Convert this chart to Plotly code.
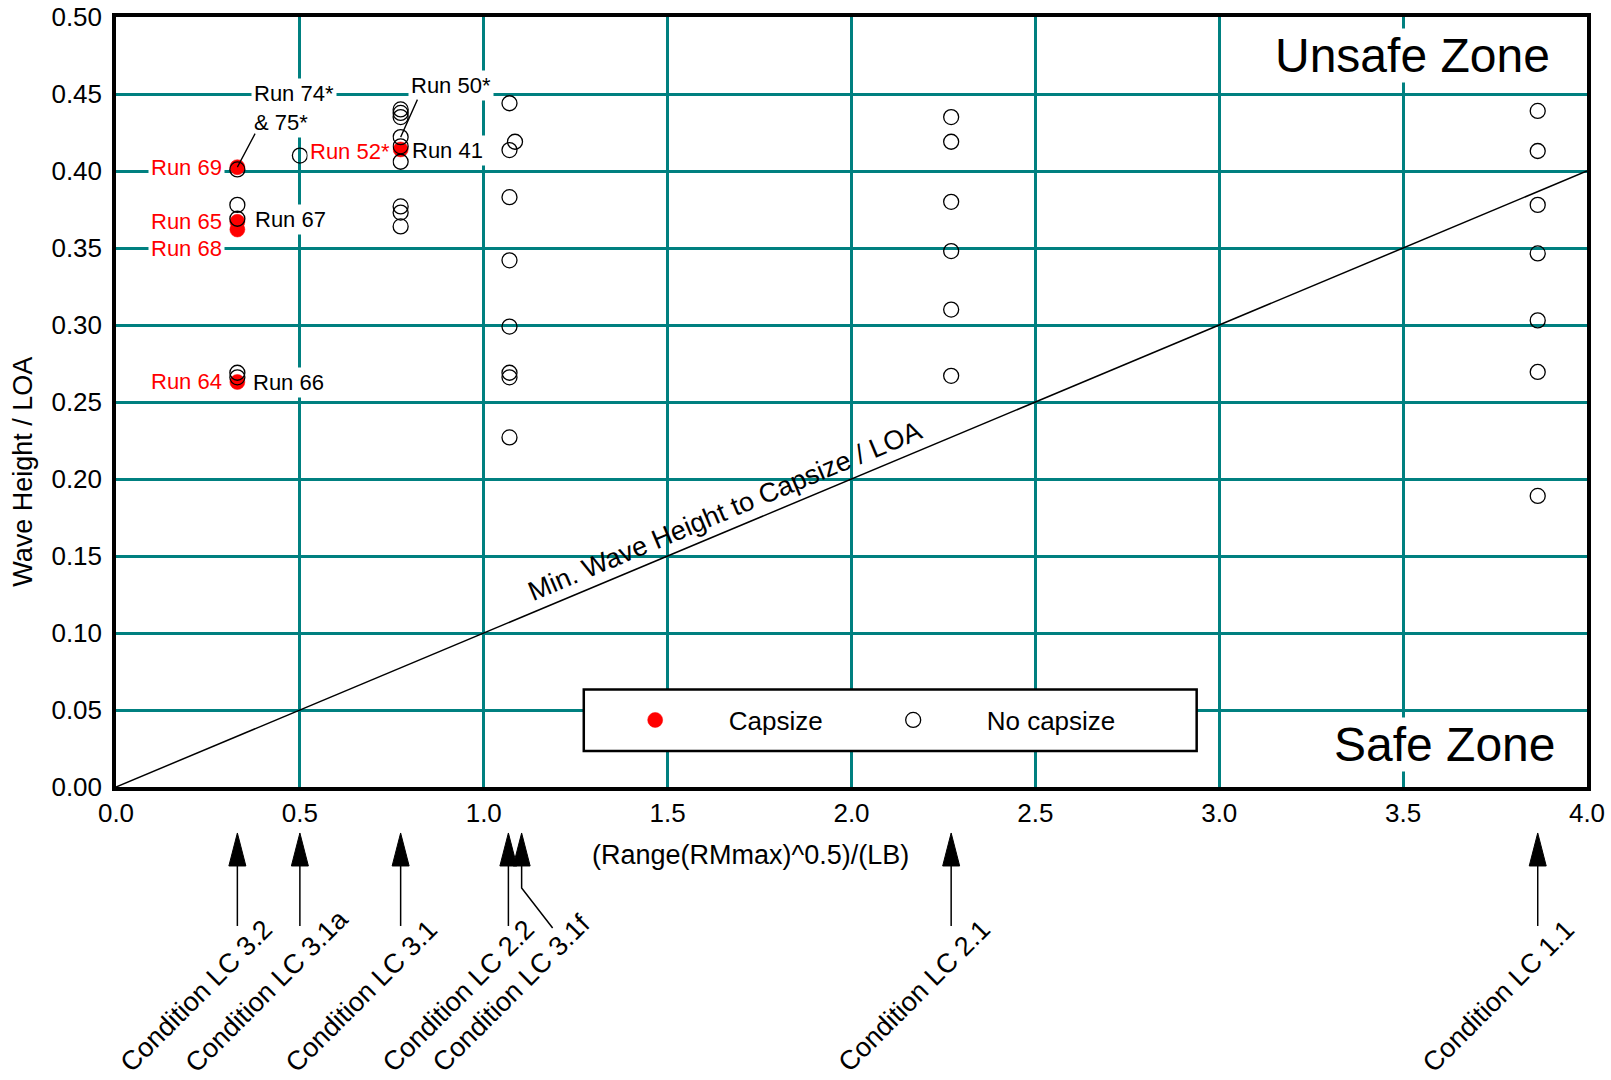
import math
import plotly.graph_objects as go

FONT = "Liberation Sans, Arial, Helvetica, sans-serif"
TEAL = "#008080"

# ---------------- data ----------------
capsize_x = [0.33, 0.33, 0.33, 0.33, 0.774]
capsize_y = [0.4025, 0.367, 0.362, 0.263, 0.414]

nocap_x = [0.33, 0.33, 0.33, 0.33, 0.33,
           0.5,
           0.774, 0.774, 0.774, 0.774, 0.774, 0.774, 0.774, 0.774, 0.774,
           1.07, 1.07, 1.07, 1.07, 1.07, 1.07, 1.07, 1.07,
           1.085,
           2.271, 2.271, 2.271, 2.271, 2.271, 2.271,
           3.866, 3.866, 3.866, 3.866, 3.866, 3.866, 3.866]
nocap_y = [0.401, 0.378, 0.369, 0.269, 0.266,
           0.410,
           0.440, 0.4377, 0.435, 0.422, 0.416, 0.406, 0.377, 0.373, 0.364,
           0.444, 0.4136, 0.383, 0.342, 0.299, 0.269, 0.266, 0.227,
           0.419,
           0.435, 0.419, 0.380, 0.348, 0.310, 0.267,
           0.439, 0.413, 0.378, 0.3465, 0.303, 0.2695, 0.189]

threshold_x = [0.0, 4.0]
threshold_y = [0.0, 0.4]

x_ticks = [0.0, 0.5, 1.0, 1.5, 2.0, 2.5, 3.0, 3.5, 4.0]
x_tick_text = ["0.0", "0.5", "1.0", "1.5", "2.0", "2.5", "3.0", "3.5", "4.0"]
y_ticks = [0.0, 0.05, 0.10, 0.15, 0.20, 0.25, 0.30, 0.35, 0.40, 0.45, 0.50]
y_tick_text = ["0.00", "0.05", "0.10", "0.15", "0.20", "0.25", "0.30", "0.35",
               "0.40", "0.45", "0.50"]

# run labels: text, colour, point x, point y
run_labels = [
    ("Run 74*<br>&amp; 75*", "black", 0.33, 0.4025),
    ("Run 69", "red", 0.33, 0.4025),
    ("Run 65", "red", 0.33, 0.367),
    ("Run 68", "red", 0.33, 0.362),
    ("Run 67", "black", 0.33, 0.369),
    ("Run 64", "red", 0.33, 0.263),
    ("Run 66", "black", 0.33, 0.266),
    ("Run 52*", "red", 0.774, 0.414),
    ("Run 41", "black", 0.774, 0.416),
    ("Run 50*", "black", 0.774, 0.422),
]
# placement (style): xanchor, xshift, yshift, pointer tail (dx, dy) or None
run_label_style = [
    ("left", 14, 59, (18, -34)),
    ("right", -12, 0, None),
    ("right", -12, 0, None),
    ("right", -12, -19, None),
    ("left", 15, -1, None),
    ("right", -12, 0, None),
    ("left", 13, -5, None),
    ("right", -8, -2, None),
    ("left", 8, -4, None),
    ("left", 7, 52, (17, -38)),
]

cond_names = ["Condition LC 3.2", "Condition LC 3.1a", "Condition LC 3.1",
              "Condition LC 2.2", "Condition LC 3.1f", "Condition LC 2.1",
              "Condition LC 1.1"]
cond_x = [0.33, 0.5, 0.774, 1.067, 1.103, 2.271, 3.866]
cond_text_shift = [-126, -124, -124, -135, -98, -122, -124]
cond_bent = [False, False, False, False, True, False, False]

# ---------------- layout geometry ----------------
W, H = 1611, 1080
ML, MT = 115.5, 16.5
PW, PH = 1472, 770.5
MR = W - ML - PW
MB = H - MT - PH
S_LEFT = ML
S_BOTTOM = MT + PH


def px(X):
    return (X - S_LEFT) / PW


def py(Y):
    return (S_BOTTOM - Y) / PH


fig = go.Figure()

fig.add_trace(go.Scatter(
    x=threshold_x, y=threshold_y, mode="lines",
    line=dict(color="black", width=1.5), showlegend=False, hoverinfo="skip"))

fig.add_trace(go.Scatter(
    x=capsize_x, y=capsize_y, mode="markers", name="Capsize",
    marker=dict(symbol="circle", size=15, color="#ff0000",
                line=dict(color="#ff0000", width=0.5))))

fig.add_trace(go.Scatter(
    x=nocap_x, y=nocap_y, mode="markers", name="No capsize", legendwidth=150,
    marker=dict(symbol="circle", size=15, color="rgba(0,0,0,0)",
                line=dict(color="black", width=1.3))))

annotations = []
for (txt, col, pxv, pyv), (xa, xs, ys, tail) in zip(run_labels, run_label_style):
    annotations.append(dict(
        x=pxv, y=pyv, xref="x", yref="y", text=txt, showarrow=False,
        xanchor=xa, yanchor="middle", xshift=xs, yshift=ys, align="left",
        font=dict(size=22, color=col, family=FONT), bgcolor="white", borderpad=2))
    if tail is not None:
        annotations.append(dict(
            x=pxv, y=pyv, xref="x", yref="y", text="", showarrow=True,
            arrowhead=0, arrowwidth=1.3, arrowcolor="black",
            ax=tail[0], ay=tail[1], standoff=0, font=dict(size=1), borderpad=0))

# zone labels
annotations.append(dict(x=px(1412.6), y=py(55), xref="paper", yref="paper",
                        text="Unsafe Zone", showarrow=False, bgcolor="white",
                        font=dict(size=48, family=FONT, color="black"),
                        xanchor="center", yanchor="middle", borderpad=0))
annotations.append(dict(x=px(1444.6), y=py(744), xref="paper", yref="paper",
                        text="Safe Zone", showarrow=False, bgcolor="white",
                        font=dict(size=48, family=FONT, color="black"),
                        xanchor="center", yanchor="middle", borderpad=0))

# threshold line label (angle follows the line on screen)
slope_px = ((threshold_y[1] - threshold_y[0]) / 0.5 * PH) / ((threshold_x[1] - threshold_x[0]) / 4.0 * PW)
ang = math.degrees(math.atan(slope_px))
lab_x = 1.656
lab_y = threshold_y[0] + (threshold_y[1] - threshold_y[0]) * lab_x / threshold_x[1]
annotations.append(dict(x=lab_x, y=lab_y, xref="x", yref="y",
                        text="Min. Wave Height to Capsize / LOA", showarrow=False,
                        textangle=-ang, yshift=21, xanchor="center", yanchor="middle",
                        font=dict(size=27, family=FONT, color="black")))

# axis titles
annotations.append(dict(x=px(750), y=py(855), xref="paper", yref="paper",
                        text="(Range(RMmax)^0.5)/(LB)", showarrow=False,
                        xanchor="center", yanchor="middle",
                        font=dict(size=27, family=FONT, color="black")))
annotations.append(dict(x=px(23), y=py(472), xref="paper", yref="paper",
                        text="Wave Height / LOA", showarrow=False, textangle=-90,
                        xanchor="center", yanchor="middle",
                        font=dict(size=27, family=FONT, color="black")))

# condition labels and arrows
tip_y = py(833)
text_bottom = py(1079.5)
shapes = []
for name, cx, xs, bent in zip(cond_names, cond_x, cond_text_shift, cond_bent):
    annotations.append(dict(x=cx, y=text_bottom, xref="x", yref="paper", text=name,
                            showarrow=False, textangle=-45, xanchor="left",
                            yanchor="bottom", xshift=xs + 2, borderpad=0,
                            font=dict(size=27, family=FONT, color="black")))
    shapes.append(dict(type="path", xref="x", yref="paper",
                       xsizemode="pixel", ysizemode="pixel",
                       xanchor=cx, yanchor=tip_y,
                       path="M0,0 L-8.5,-33 L8.5,-33 Z",
                       fillcolor="black", line=dict(color="black", width=1)))
    shaft = "M0,-33 L0,-55 L31,-95" if bent else "M0,-33 L0,-93"
    shapes.append(dict(type="path", xref="x", yref="paper",
                       xsizemode="pixel", ysizemode="pixel",
                       xanchor=cx, yanchor=tip_y, path=shaft,
                       line=dict(color="black", width=1.5)))

# legend box
shapes.append(dict(type="rect", xref="paper", yref="paper",
                   x0=px(583.6), x1=px(1196.9), y0=py(751), y1=py(689.4),
                   fillcolor="white", line=dict(color="black", width=2.5),
                   layer="above"))

fig.update_layout(
    width=W, height=H,
    margin=dict(l=ML, r=MR, t=MT, b=MB, autoexpand=False),
    plot_bgcolor="white", paper_bgcolor="white",
    font=dict(family=FONT, size=26, color="black"),
    annotations=annotations, shapes=shapes,
    legend=dict(orientation="h", x=px(581.5), y=py(720),
                xanchor="left", yanchor="middle", bgcolor="rgba(0,0,0,0)",
                borderwidth=0, font=dict(size=26, family=FONT, color="black"),
                itemwidth=137, entrywidth=106, entrywidthmode="pixels"),
)
fig.update_xaxes(range=[0, 4], tickvals=x_ticks, ticktext=x_tick_text,
                 showgrid=True, gridcolor=TEAL, gridwidth=2.5, zeroline=False,
                 showline=True, linecolor="black", linewidth=3.5, mirror=True,
                 automargin=False, ticks="", ticklabeloverflow="allow",
                 tickfont=dict(size=26, family=FONT, color="black"))
fig.update_yaxes(range=[0, 0.5], tickvals=y_ticks, ticktext=y_tick_text,
                 showgrid=True, gridcolor=TEAL, gridwidth=2.5, zeroline=False,
                 showline=True, linecolor="black", linewidth=3.5, mirror=True,
                 automargin=False, ticks="", ticklabelstandoff=5,
                 ticklabeloverflow="allow",
                 tickfont=dict(size=26, family=FONT, color="black"))

fig.write_html("out.html", config={"displayModeBar": False},
               post_script="document.body.style.margin='0px';")
